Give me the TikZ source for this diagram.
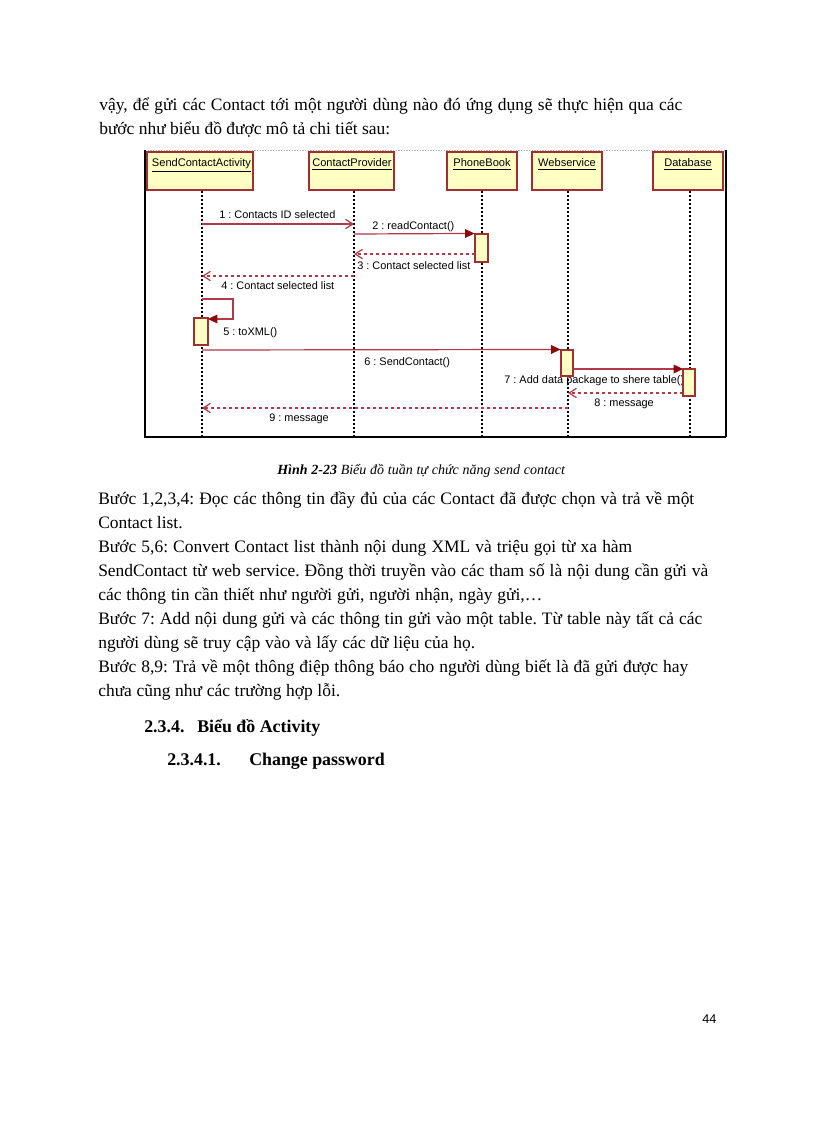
\documentclass[tikz,border=0pt]{standalone}
\usepackage{fontspec}
\setmainfont{Liberation Serif}
\newfontfamily\dgfont{Liberation Sans}
\usetikzlibrary{arrows.meta}
\frenchspacing
\definecolor{msg}{HTML}{B03A48}
\definecolor{tipc}{HTML}{8B0A0A}
\definecolor{boxfill}{HTML}{FFFFC4}
\definecolor{boxline}{HTML}{A0302F}
\newcommand\pxw[1]{\dimexpr #1pt*3/4\relax}
\newcommand\jline[2]{\makebox[\pxw{#1}][s]{#2}}
\tikzset{
  body/.style={anchor=base west, inner sep=0pt, font=\fontsize{13.1}{15}\selectfont},
  headtxt/.style={anchor=base west, inner sep=0pt, font=\fontsize{13.4}{16}\selectfont\bfseries},
  lbl/.style={anchor=west, inner sep=0pt, font=\dgfont\fontsize{8.2}{9.8}\selectfont},
  objname/.style={anchor=base, inner sep=0pt, font=\dgfont\fontsize{8.3}{9.8}\selectfont},
  objbox/.style={draw=boxline, fill=boxfill, line width=0.9pt, inner sep=0pt, minimum height=28.5pt},
  actbox/.style={draw=boxline, fill=boxfill, line width=0.8pt, inner sep=0pt, minimum width=9.5pt},
  lifeline/.style={draw=black, line width=0.8pt, dash pattern=on 1.5pt off 1.5pt},
  callmsg/.style={draw=msg, line width=0.9pt, -{Triangle[length=7pt,width=6.5pt,color=tipc]}},
  openmsg/.style={draw=msg, line width=0.9pt, -{Straight Barb[length=5.5pt,width=7pt]}},
  retmsg/.style={draw=msg, line width=0.9pt, dash pattern=on 2.5pt off 2pt, -{Straight Barb[length=5.5pt,width=7pt]}},
}
\begin{document}
\begin{tikzpicture}[x=0.75pt,y=-0.75pt]
\useasboundingbox (0,0) rectangle (816,1123);
\fill[white] (0,0) rectangle (816,1123);

% intro text
\node[body] (t1) at (99,111) {\jline{583}{vậy, để gửi các Contact tới một người dùng nào đó ứng dụng sẽ thực hiện qua các}};
\node[body] (t2) at (99,135) {bước như biểu đồ được mô tả chi tiết sau:};

% frame
\draw[gray!60, line width=0.6pt, dash pattern=on 1pt off 1pt] (145,150) -- (726,150);
\draw[black, line width=1pt] (145,150) -- (145,437) -- (726,437);
\draw[black, line width=1.5pt] (726,150) -- (726,437);

% object boxes
\node[objbox, minimum width=79.5pt] (sca) at (200,171) {};
\node[objbox, minimum width=63.75pt] (cp) at (351.5,171) {};
\node[objbox, minimum width=52.5pt] (pb) at (482,171) {};
\node[objbox, minimum width=52.5pt] (ws) at (567,171) {};
\node[objbox, minimum width=52.5pt] (db) at (688,171) {};
\node[objname] (nsca) at (201.5,167) {\underline{SendContactActivity}};
\node[objname] (ncp) at (352,167) {\underline{ContactProvider}};
\node[objname] (npb) at (482,167) {\underline{PhoneBook}};
\node[objname] (nws) at (567,167) {\underline{Webservice}};
\node[objname] (ndb) at (688,167) {\underline{Database}};

% lifeline coordinates
\coordinate (lsca) at (202,437);
\coordinate (lcp) at (354,437);
\coordinate (lpb) at (482,437);
\coordinate (lws) at (568,437);
\coordinate (ldb) at (690,437);
\draw[lifeline] (202,191) -- (lsca);
\draw[lifeline] (354,191) -- (lcp);
\draw[lifeline] (482,191) -- (lpb);
\draw[lifeline] (568,191) -- (lws);
\draw[lifeline] (690,191) -- (ldb);

% activation boxes
\node[actbox, minimum width=9.75pt, minimum height=21pt] (a2) at (481.5,248) {};
\node[actbox, minimum width=10.5pt, minimum height=20.25pt] (a5) at (201,331.5) {};
\node[actbox, minimum width=9pt, minimum height=19.5pt] (a6) at (567,363) {};

% message endpoints
\coordinate (m1s) at (202,224); \coordinate (m1e) at (354,224);
\coordinate (m2s) at (354,234);
\coordinate (m3s) at (475,254); \coordinate (m3e) at (354,254);
\coordinate (m4s) at (354,276); \coordinate (m4e) at (202,276);
\coordinate (m5s) at (202,299); \coordinate (m5a) at (233,299); \coordinate (m5b) at (233,319); \coordinate (m5e) at (208,319);
\coordinate (m6s) at (202,350);
\coordinate (m7s) at (573,369);
\coordinate (m8s) at (683,393); \coordinate (m8e) at (568,393);
\coordinate (m9s) at (568,408); \coordinate (m9e) at (202,408);

\draw[openmsg] (m1s) -- (m1e);
\draw[callmsg] (m2s) -- (a2.north west);
\draw[retmsg] (m3s) -- (m3e);
\draw[retmsg] (m4s) -- (m4e);
\draw[callmsg] (m5s) -- (m5a) -- (m5b) -- (m5e);
\draw[callmsg] (m6s) -- (a6.north west);
\coordinate (m7e) at (683,369);
\draw[callmsg] (m7s) -- (m7e);
\draw[retmsg] (m8s) -- (m8e);
\draw[retmsg] (m9s) -- (m9e);

% labels
\node[lbl] (l1) at (219,215) {1 : Contacts ID selected};
\node[lbl] (l2) at (372,227) {2 : readContact()};
\node[lbl] (l3) at (357,266) {3 : Contact selected list};
\node[lbl] (l4) at (221,286) {4 : Contact selected list};
\node[lbl] (l5) at (223,333) {5 : toXML()};
\node[lbl] (l6) at (364,363) {6 : SendContact()};
\node[lbl] (l7) at (504,381) {7 : Add data package to shere table()};
\node[lbl] (l8) at (594,404) {8 : message};
\node[lbl] (l9) at (269,419) {9 : message};

\node[actbox, minimum width=9pt, minimum height=20.25pt] (a7) at (689,382.5) {};

% caption
\node[anchor=base west, inner sep=0pt, font=\fontsize{10.5}{12}\selectfont] (cap) at (277,474)
  {\jline{288}{\textbf{\textit{Hình 2-23}} \textit{Biểu đồ tuần tự chức năng send contact}}};

% body text
\node[body] (p1) at (98,504) {\jline{596}{Bước 1,2,3,4: Đọc các thông tin đầy đủ của các Contact đã được chọn và trả về một}};
\node[body] (p2) at (98,528) {Contact list.};
\node[body] (p3) at (98,552) {\jline{534}{Bước 5,6: Convert Contact list thành nội dung XML và triệu gọi từ xa hàm}};
\node[body] (p4) at (98,576) {\jline{610}{SendContact từ web service. Đồng thời truyền vào các tham số là nội dung cần gửi và}};
\node[body] (p5) at (98,600) {\jline{444}{các thông tin cần thiết như người gửi, người nhận, ngày gửi,…}};
\node[body] (p6) at (98,624) {\jline{604}{Bước 7: Add nội dung gửi và các thông tin gửi vào một table. Từ table này tất cả các}};
\node[body] (p7) at (98,648) {\jline{377}{người dùng sẽ truy cập vào và lấy các dữ liệu của họ.}};
\node[body] (p8) at (98,672) {\jline{590}{Bước 8,9: Trả về một thông điệp thông báo cho người dùng biết là đã gửi được hay}};
\node[body] (p9) at (98,696) {\jline{242}{chưa cũng như các trường hợp lỗi.}};

% headings
\node[headtxt] (h1n) at (144,732) {2.3.4.};
\node[headtxt] (h1) at (197,732) {Biểu đồ Activity};
\node[headtxt] (h2n) at (167,765) {2.3.4.1.};
\node[headtxt] (h2) at (249,765) {Change password};

% page number
\node[anchor=base west, inner sep=0pt, font=\dgfont\fontsize{9.5}{11}\selectfont] (pg) at (702,1023) {44};
\end{tikzpicture}
\end{document}
